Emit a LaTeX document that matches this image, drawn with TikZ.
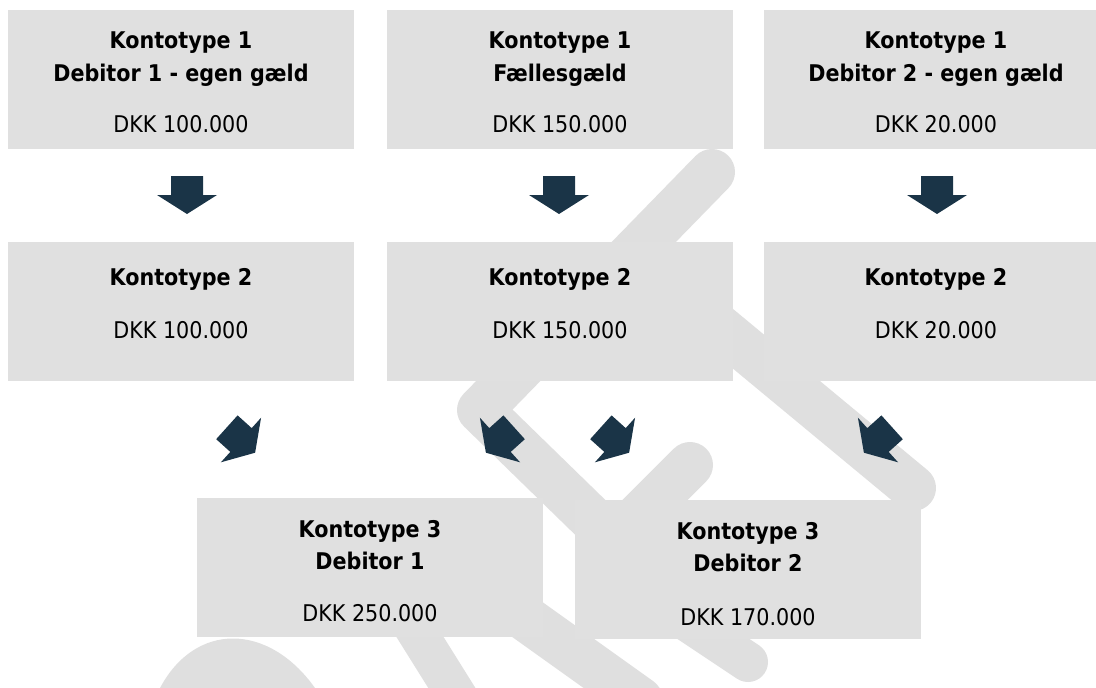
\documentclass[tikz,border=0pt]{standalone}
\usepackage{fontspec}
\setmainfont{DejaVu Sans Condensed}[BoldFont={DejaVu Sans Condensed Bold}]
\usepackage{tikz}
\usetikzlibrary{positioning,calc}
\definecolor{boxgray}{HTML}{E0E0E0}
\definecolor{wmgray}{HTML}{DFDFDF}
\definecolor{pilblaa}{HTML}{1A3447}
\tikzset{
  blokpil/.pic={\fill[pilblaa] (-16,-19) -- (16,-19) -- (16,0) -- (30,0) -- (0,19) -- (-30,0) -- (-16,0) -- cycle;}
}

\begin{document}
\begin{tikzpicture}[x=1pt,y=-1pt,
  box/.style={fill=boxgray,inner sep=0pt,anchor=north west,minimum width=346pt,minimum height=139pt},
  titel/.style={anchor=base,inner sep=0pt,font=\fontsize{23}{28}\selectfont\bfseries},
  beloeb/.style={anchor=base,inner sep=0pt,font=\fontsize{23}{28}\selectfont},
  wm/.style={draw=wmgray,line width=46pt,line cap=round,line join=round}]
	\useasboundingbox (0,0) rectangle (1096,688);
	\draw [wm] (712,172) -- (480,410) -- (595,522);
	\draw [wm] (650,270) -- (913,488);
	\draw [wm] (690,465) -- (625,530);
	\draw [wm, line width=40pt] (640,590) -- (748,662);
	\draw [wm, line width=40pt] (395,597) -- (475,725);
	\draw [wm] (500,600) -- (640,700);
	\fill [wmgray] (160,688) .. controls (195,622) and (268,622) .. (315,688) -- cycle;

	\node [box] (k1a) at (8,10) {};
	\node [box] (k1b) at (387,10) {};
	\node [box, minimum width=332pt] (k1c) at (764,10) {};
	\node [box] (k2a) at (8,242) {};
	\node [box] (k2b) at (387,242) {};
	\node [box, minimum width=332pt] (k2c) at (764,242) {};
	\node [box] (k3a) at (197,498) {};
	\node [box] (k3b) at (575,500) {};

	\node [titel] (t1a) at (181,48) {Kontotype 1};
	\node [titel] (d1a) at (181,81) {Debitor 1 - egen gæld};
	\node [beloeb] (b1a) at (181,132) {DKK 100.000};
	\node [titel] (t1b) at (560,48) {Kontotype 1};
	\node [titel] (d1b) at (560,81) {Fællesgæld};
	\node [beloeb] (b1b) at (560,132) {DKK 150.000};
	\node [titel] (t1c) at (936,48) {Kontotype 1};
	\node [titel] (d1c) at (936,81) {Debitor 2 - egen gæld};
	\node [beloeb] (b1c) at (936,132) {DKK 20.000};

	\node [titel] (t2a) at (181,285) {Kontotype 2};
	\node [beloeb] (b2a) at (181,338) {DKK 100.000};
	\node [titel] (t2b) at (560,285) {Kontotype 2};
	\node [beloeb] (b2b) at (560,338) {DKK 150.000};
	\node [titel] (t2c) at (936,285) {Kontotype 2};
	\node [beloeb] (b2c) at (936,338) {DKK 20.000};

	\node [titel] (t3a) at (370,537) {Kontotype 3};
	\node [titel] (d3a) at (370,569) {Debitor 1};
	\node [beloeb] (b3a) at (370,621) {DKK 250.000};
	\node [titel] (t3b) at (748,539) {Kontotype 3};
	\node [titel] (d3b) at (748,571) {Debitor 2};
	\node [beloeb] (b3b) at (748,625) {DKK 170.000};

	\pic at (187,195) {blokpil};
	\pic at (559,195) {blokpil};
	\pic at (937,195) {blokpil};
	\pic [rotate=48] at (241,440) {blokpil};
	\pic [rotate=-48] at (500,440) {blokpil};
	\pic [rotate=48] at (615,440) {blokpil};
	\pic [rotate=-48] at (878,440) {blokpil};
\end{tikzpicture}
\end{document}
